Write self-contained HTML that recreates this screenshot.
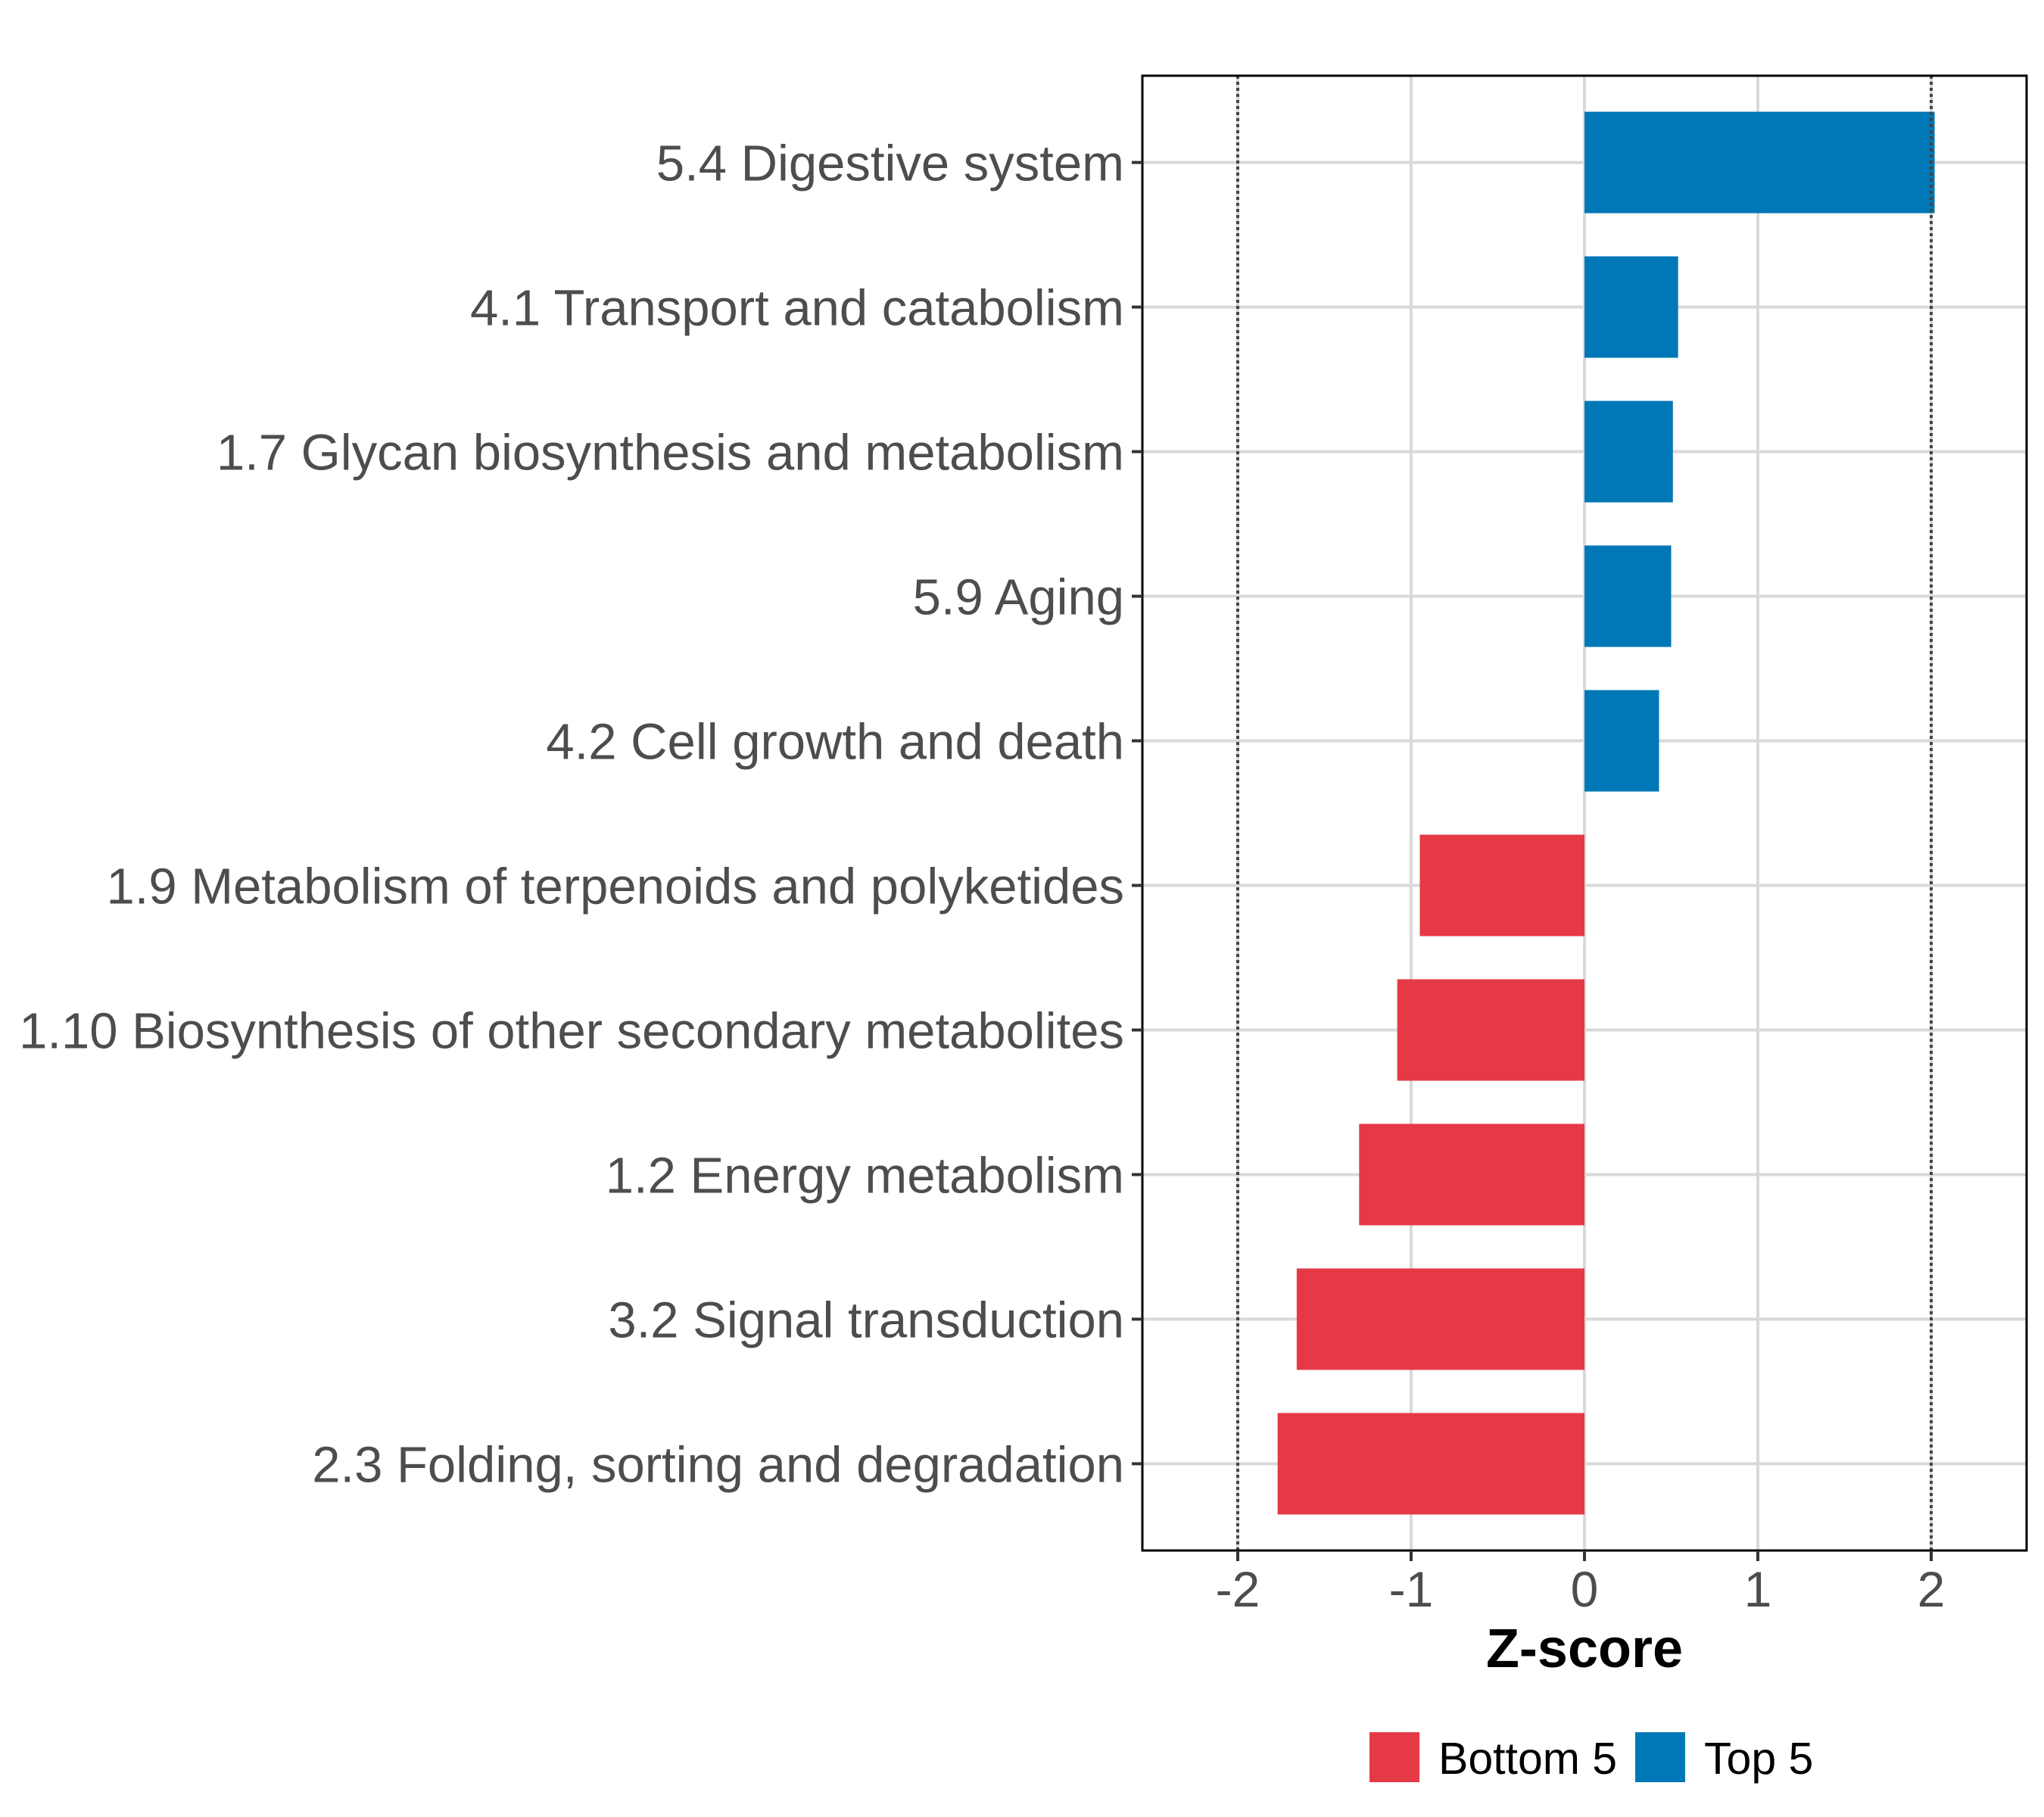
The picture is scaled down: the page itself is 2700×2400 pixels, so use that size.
<!DOCTYPE html>
<html><head><meta charset="utf-8"><style>
html,body{margin:0;padding:0;background:#fff;}
svg{display:block;font-family:"Liberation Sans",Arial,sans-serif;}
</style></head><body>
<svg id="chart" width="2700" height="2400" viewBox="0 0 2700 2400" xmlns="http://www.w3.org/2000/svg"></svg>
<script>
const categories = ["5.4 Digestive system","4.1 Transport and catabolism","1.7 Glycan biosynthesis and metabolism","5.9 Aging","4.2 Cell growth and death","1.9 Metabolism of terpenoids and polyketides","1.10 Biosynthesis of other secondary metabolites","1.2 Energy metabolism","3.2 Signal transduction","2.3 Folding, sorting and degradation"];
const zscores = [2.02,0.54,0.51,0.50,0.43,-0.95,-1.08,-1.30,-1.66,-1.77];
const groups = ["Top 5","Top 5","Top 5","Top 5","Top 5","Bottom 5","Bottom 5","Bottom 5","Bottom 5","Bottom 5"];
const xTicks = [-2,-1,0,1,2];
const xTickLabels = ["-2","-1","0","1","2"];
const refLines = [-2,2];
const legendLabels = ["Bottom 5","Top 5"];

const NS="http://www.w3.org/2000/svg";
const svg=document.getElementById('chart');
const L=1509,R=2677,T=100,B=2048;
const x0px=2093, unit=229;
function xs(v){return x0px+v*unit;}
const step=(B-T)/(categories.length+0.2);
function ys(i){return T+step*0.6+i*step;}
const colors={"Top 5":"#0077b6","Bottom 5":"#e63946"};
function mk(tag,attrs){const e=document.createElementNS(NS,tag);for(const k in attrs)e.setAttribute(k,attrs[k]);svg.appendChild(e);return e;}

xTicks.forEach((t,i)=>{
  const g=mk('line',{x1:xs(t),x2:xs(t),y1:T,y2:B,stroke:'#d9d9d9','stroke-width':4});
  
  
});
categories.forEach((c,i)=>{
  const g=mk('line',{x1:L,x2:R,y1:ys(i),y2:ys(i),stroke:'#d9d9d9','stroke-width':4});
  
  
});
categories.forEach((c,i)=>{
  const v=zscores[i];
  const h=134;
  const r=mk('rect',{x:Math.min(xs(0),xs(v)),y:ys(i)-h/2,width:Math.abs(xs(v)-xs(0)),height:h,fill:colors[groups[i]]});
  
  
});
refLines.forEach(v=>{
  const l=mk('line',{x1:xs(v),x2:xs(v),y1:T,y2:B,stroke:'#444','stroke-width':4,'stroke-dasharray':'4 4'});
  
  
});
const pb=mk('rect',{x:L,y:T,width:R-L,height:B-T,fill:'none',stroke:'#000','stroke-width':3});


categories.forEach((c,i)=>{
  const tk=mk('line',{x1:L-14,x2:L,y1:ys(i),y2:ys(i),stroke:'#333','stroke-width':4});
  
  
  const t=mk('text',{x:L-24,y:ys(i)+24,'text-anchor':'end','font-size':67,fill:'#4d4d4d'});
  t.textContent=c;
  
  
});
xTicks.forEach((v,i)=>{
  const tk=mk('line',{x1:xs(v),x2:xs(v),y1:B,y2:B+14,stroke:'#333','stroke-width':4});
  
  
  const t=mk('text',{x:xs(v),y:2122,'text-anchor':'middle','font-size':66,fill:'#4d4d4d'});
  t.textContent=xTickLabels[i];
  
  
});
const xt=mk('text',{x:xs(0),y:2202,'text-anchor':'middle','font-size':72,'font-weight':'bold',fill:'#000'});
xt.textContent='Z-score';


const legX=[1809,2160];
legendLabels.forEach((lab,i)=>{
  const k=mk('rect',{x:legX[i],y:2288,width:66,height:66,fill:colors[lab]});
  
  
  const t=mk('text',{x:legX[i]+91,y:2343,'font-size':59,fill:'#000'});
  t.textContent=lab;
  
  
});
</script>
</body></html>
